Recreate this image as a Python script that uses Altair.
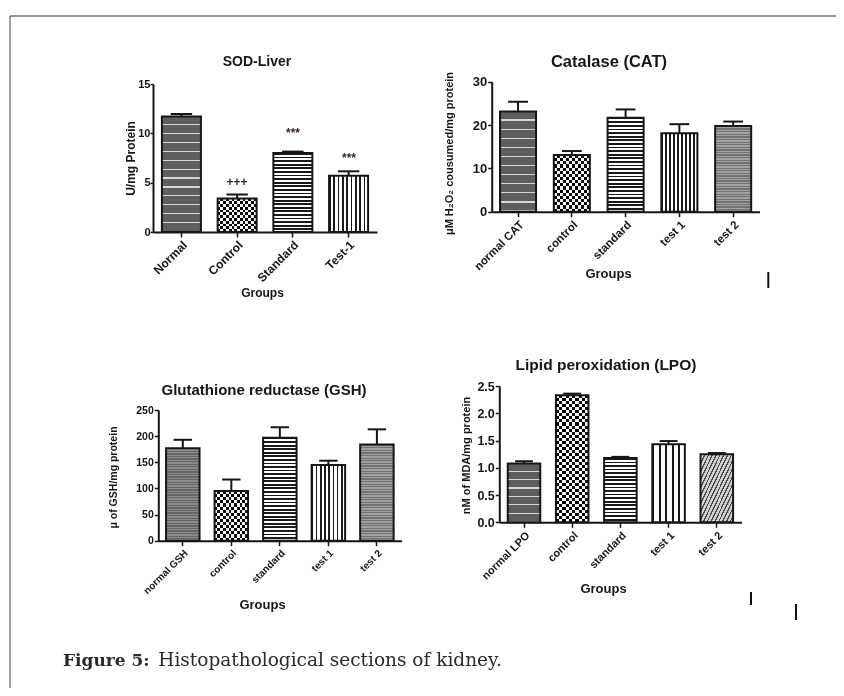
import altair as alt
import pandas as pd

# ---------------- data ----------------
sod_groups = ["Normal", "Control", "Standard", "Test-1"]
sod_mean = [11.7, 3.4, 8.0, 5.7]
sod_err = [0.25, 0.4, 0.15, 0.45]
sod_sig_groups = ["Control", "Standard", "Test-1"]
sod_sig_text = ["+++", "***", "***"]
sod_sig_level = [5.1, 10.0, 7.5]

cat_groups = ["normal CAT", "control", "standard", "test 1", "test 2"]
cat_mean = [23.1, 13.1, 21.7, 18.1, 19.8]
cat_err = [2.3, 0.9, 1.9, 2.1, 1.0]

gsh_groups = ["normal GSH", "control", "standard", "test 1", "test 2"]
gsh_mean = [177, 95, 197, 145, 184]
gsh_err = [16, 22, 20, 8, 29]

lpo_groups = ["normal LPO", "control", "standard", "test 1", "test 2"]
lpo_mean = [1.08, 2.33, 1.18, 1.43, 1.25]
lpo_err = [0.04, 0.03, 0.02, 0.06, 0.02]

caption_bold = "Figure 5:"
caption_rest = "Histopathological sections of kidney."

# ---------------- style ----------------
FONT = "Liberation Sans, Arial, sans-serif"
SERIF = "DejaVu Serif, Liberation Serif, serif"
INK = "#161616"
W, H = 828, 680


def stripe_grad(n, c1, c2, frac, direction="h"):
    n = max(1, int(round(n)))
    stops = []
    for i in range(n):
        a = i / n
        b = (i + frac) / n
        c = (i + 1) / n
        stops += [
            {"offset": round(a, 5), "color": c1},
            {"offset": round(b, 5), "color": c1},
            {"offset": round(b, 5), "color": c2},
            {"offset": round(c, 5), "color": c2},
        ]
    x2, y2 = {"h": (0, 1), "v": (1, 0), "d": (1, 1)}[direction]
    return {"gradient": "linear", "x1": 0, "y1": 0, "x2": x2, "y2": y2, "stops": stops}


def pattern_fill(kind, h, bw):
    if kind == "dotlines":
        return stripe_grad(h / 9.0, "#5e5e5e", "#d6d6d6", 0.86, "h")
    if kind == "dots_dark":
        return stripe_grad(h / 2.6, "#666666", "#8c8c8c", 0.5, "h")
    if kind == "dots":
        return stripe_grad(h / 2.6, "#727272", "#a0a0a0", 0.5, "h")
    if kind == "hlines":
        return stripe_grad(h / 3.6, "#1a1a1a", "#ffffff", 0.5, "h")
    if kind == "vlines":
        return stripe_grad(bw / 4.2, "#1a1a1a", "#ffffff", 0.4, "v")
    if kind == "vlines_wide":
        return stripe_grad(bw / 6.5, "#1a1a1a", "#ffffff", 0.3, "v")
    if kind == "checker":
        return stripe_grad(h / 6.0, "#111111", "#ffffff", 0.5, "h")
    if kind == "hatch":
        return stripe_grad((h + bw) / 6.0, "#4a4a4a", "#cfcfcf", 0.35, "d")
    return "#888888"


def panel(groups, mean, err, L, patterns, sig=None):
    """Returns a flat list of layers for one panel."""
    df = pd.DataFrame({"g": groups, "v": mean,
                       "hi": [round(m + e, 5) for m, e in zip(mean, err)]})
    n = len(groups)
    step = (L["xr"][1] - L["xr"][0]) / (n - L["pi"] + 2 * L["po"])
    bw = step * (1 - L["pi"])
    ppu = (L["yr"][0] - L["yr"][1]) / L["ymax"]

    xscale = alt.Scale(domain=groups, range=L["xr"],
                       paddingInner=L["pi"], paddingOuter=L["po"])
    yscale = alt.Scale(domain=[0, L["ymax"]], range=L["yr"], nice=False, zero=True)

    xaxis = alt.Axis(
        orient="bottom", offset=L["yb"] - H, title="Groups",
        titleX=L["gx"], titleY=L["gy"], titleAngle=0, titleAlign="center",
        titleBaseline="middle", titleFont=FONT, titleFontSize=L["gfs"],
        titleFontWeight="bold", titleColor=INK,
        labelAngle=-45, labelAlign="right", labelBaseline="top", labelFont=FONT,
        labelFontSize=L["xlfs"], labelFontWeight="bold", labelColor=INK,
        labelPadding=2, labelOverlap=False, labelLimit=300,
        tickSize=5, tickWidth=1.5, tickColor=INK,
        domainColor=INK, domainWidth=2, grid=False)
    yaxis = alt.Axis(
        orient="left", offset=-L["xr"][0], values=L["yvals"], format=L["fmt"],
        title=L["ytitle"], titleX=L["ytx"], titleY=L["yty"], titleAngle=270,
        titleAlign="center", titleBaseline="middle", titleFont=FONT,
        titleFontSize=L["ytfs"], titleFontWeight="bold", titleColor=INK,
        labelFont=FONT, labelFontSize=L["ylfs"], labelFontWeight="bold",
        labelColor=INK, labelPadding=L["lp"], tickSize=L["ts"], tickWidth=1.5,
        tickColor=INK, domainColor=INK, domainWidth=2, grid=False)

    def X(axis=None):
        return alt.X("g:N", scale=xscale, sort=groups, axis=axis)

    def Y(field, axis=None):
        return alt.Y(f"{field}:Q", scale=yscale, axis=axis)

    base = alt.Chart(df)
    layers = []
    for g, m, kind in zip(groups, mean, patterns):
        h = m * ppu
        layers.append(
            base.transform_filter(alt.datum.g == g)
            .mark_bar(fill=pattern_fill(kind, h, bw))
            .encode(x=X(), y=Y("v"))
        )
        if kind == "checker":
            layers.append(
                base.transform_filter(alt.datum.g == g)
                .mark_bar(fill=stripe_grad(bw / 6.0, "#ffffff", "rgba(255,255,255,0)", 0.5, "v"),
                          blend="difference")
                .encode(x=X(), y=Y("v"))
            )
    layers.append(
        base.mark_bar(fill="transparent", stroke=INK, strokeWidth=2)
        .encode(x=X(xaxis), y=Y("v", yaxis))
    )
    layers.append(
        base.mark_rule(color=INK, strokeWidth=2, opacity=1)
        .encode(x=X(), y=Y("v"), y2=alt.Y2("hi"))
    )
    layers.append(
        base.mark_tick(orient="horizontal", size=bw * 0.55, thickness=2, color=INK, opacity=1)
        .encode(x=X(), y=Y("hi"))
    )
    if sig is not None:
        sdf = pd.DataFrame({"g": sig[0], "t": sig[1], "lvl": sig[2]})
        layers.append(
            alt.Chart(sdf).mark_text(font=FONT, fontSize=12, fontWeight="bold",
                                     color="#3b2626", baseline="middle")
            .encode(x=X(), y=alt.Y("lvl:Q", scale=yscale, axis=None), text="t:N")
        )
    layers.append(
        alt.Chart(pd.DataFrame({"t": [L["title"]]}))
        .mark_text(font=FONT, fontSize=L["tfs"], fontWeight="bold", color=INK,
                   align="center", baseline="middle")
        .encode(x=alt.value(L["tx"]), y=alt.value(L["ty"]), text="t:N")
    )
    return layers


sod_L = dict(xr=[145, 369], pi=0.30, po=0.16, yr=[224, 76], yb=224, ymax=15,
             yvals=[0, 5, 10, 15], fmt="d", ytitle="U/mg Protein", ytx=-23, yty=150,
             ytfs=12, ylfs=11, xlfs=12, ts=3, lp=0, gx=254, gy=60, gfs=12,
             title="SOD-Liver", tx=249, ty=54, tfs=14)
cat_L = dict(xr=[483.7, 751.5], pi=0.33, po=0.155, yr=[203.7, 73.7], yb=203.7, ymax=30,
             yvals=[0, 10, 20, 30], fmt="d", ytitle="μM H₂O₂ cousumed/mg protein",
             ytx=-42.5, yty=145, ytfs=11, ylfs=13, xlfs=11.5, ts=4, lp=1, gx=600, gy=61.3,
             gfs=13, title="Catalase (CAT)", tx=601, ty=54, tfs=16.5)
gsh_L = dict(xr=[150.3, 393.4], pi=0.31, po=0.16, yr=[532.7, 402], yb=532.7, ymax=250,
             yvals=[0, 50, 100, 150, 200, 250], fmt="d", ytitle="μ of GSH/mg protein",
             ytx=-45, yty=469, ytfs=10.5, ylfs=10.5, xlfs=10, ts=4, lp=1, gx=254, gy=63.3,
             gfs=13, title="Glutathione reductase (GSH)", tx=256, ty=382, tfs=15)
lpo_L = dict(xr=[491.3, 733.5], pi=0.325, po=0.175, yr=[514.3, 378], yb=514.3, ymax=2.5,
             yvals=[0, 0.5, 1.0, 1.5, 2.0, 2.5], fmt=".1f", ytitle="nM of MDA/mg protein",
             ytx=-33.3, yty=447, ytfs=11, ylfs=12.5, xlfs=11, ts=4, lp=1, gx=595, gy=65.7,
             gfs=13, title="Lipid peroxidation (LPO)", tx=598, ty=357, tfs=15.5)

all_layers = []
all_layers += panel(sod_groups, sod_mean, sod_err, sod_L,
                    ["dotlines", "checker", "hlines", "vlines"],
                    sig=(sod_sig_groups, sod_sig_text, sod_sig_level))
all_layers += panel(cat_groups, cat_mean, cat_err, cat_L,
                    ["dotlines", "checker", "hlines", "vlines", "dots"])
all_layers += panel(gsh_groups, gsh_mean, gsh_err, gsh_L,
                    ["dots_dark", "checker", "hlines", "vlines", "dots"])
all_layers += panel(lpo_groups, lpo_mean, lpo_err, lpo_L,
                    ["dotlines", "checker", "hlines", "vlines_wide", "hatch"])

one = pd.DataFrame({"k": [0]})
frame_left = alt.Chart(one).mark_rule(color="#707070", strokeWidth=1.3).encode(
    x=alt.value(2), y=alt.value(8), y2=alt.value(H))
frame_top = alt.Chart(one).mark_rule(color="#707070", strokeWidth=1.3).encode(
    x=alt.value(2), x2=alt.value(W), y=alt.value(8))
stray1 = alt.Chart(one).mark_rule(color="#111", strokeWidth=2).encode(
    x=alt.value(760.3), y=alt.value(264), y2=alt.value(280))
stray2 = alt.Chart(one).mark_rule(color="#111", strokeWidth=2).encode(
    x=alt.value(743), y=alt.value(584), y2=alt.value(597))
stray3 = alt.Chart(one).mark_rule(color="#111", strokeWidth=2).encode(
    x=alt.value(788), y=alt.value(596), y2=alt.value(612))

cap1 = alt.Chart(pd.DataFrame({"t": [caption_bold]})).mark_text(
    font=SERIF, fontSize=17, fontWeight="bold", color="#2a2a2a",
    align="left", baseline="alphabetic").encode(x=alt.value(55), y=alt.value(658), text="t:N")
cap2 = alt.Chart(pd.DataFrame({"t": [caption_rest]})).mark_text(
    font=SERIF, fontSize=18.5, color="#2a2a2a",
    align="left", baseline="alphabetic").encode(x=alt.value(150.3), y=alt.value(658), text="t:N")

chart = (
    alt.layer(frame_left, frame_top, *all_layers, stray1, stray2, stray3, cap1, cap2)
    .resolve_scale(x="independent", y="independent")
    .resolve_axis(x="independent", y="independent")
    .properties(width=W, height=H, autosize=alt.AutoSizeParams(type="none"), padding=0)
    .configure_view(stroke=None)
)

chart.save("out.html", embed_options={"renderer": "svg", "actions": False})
